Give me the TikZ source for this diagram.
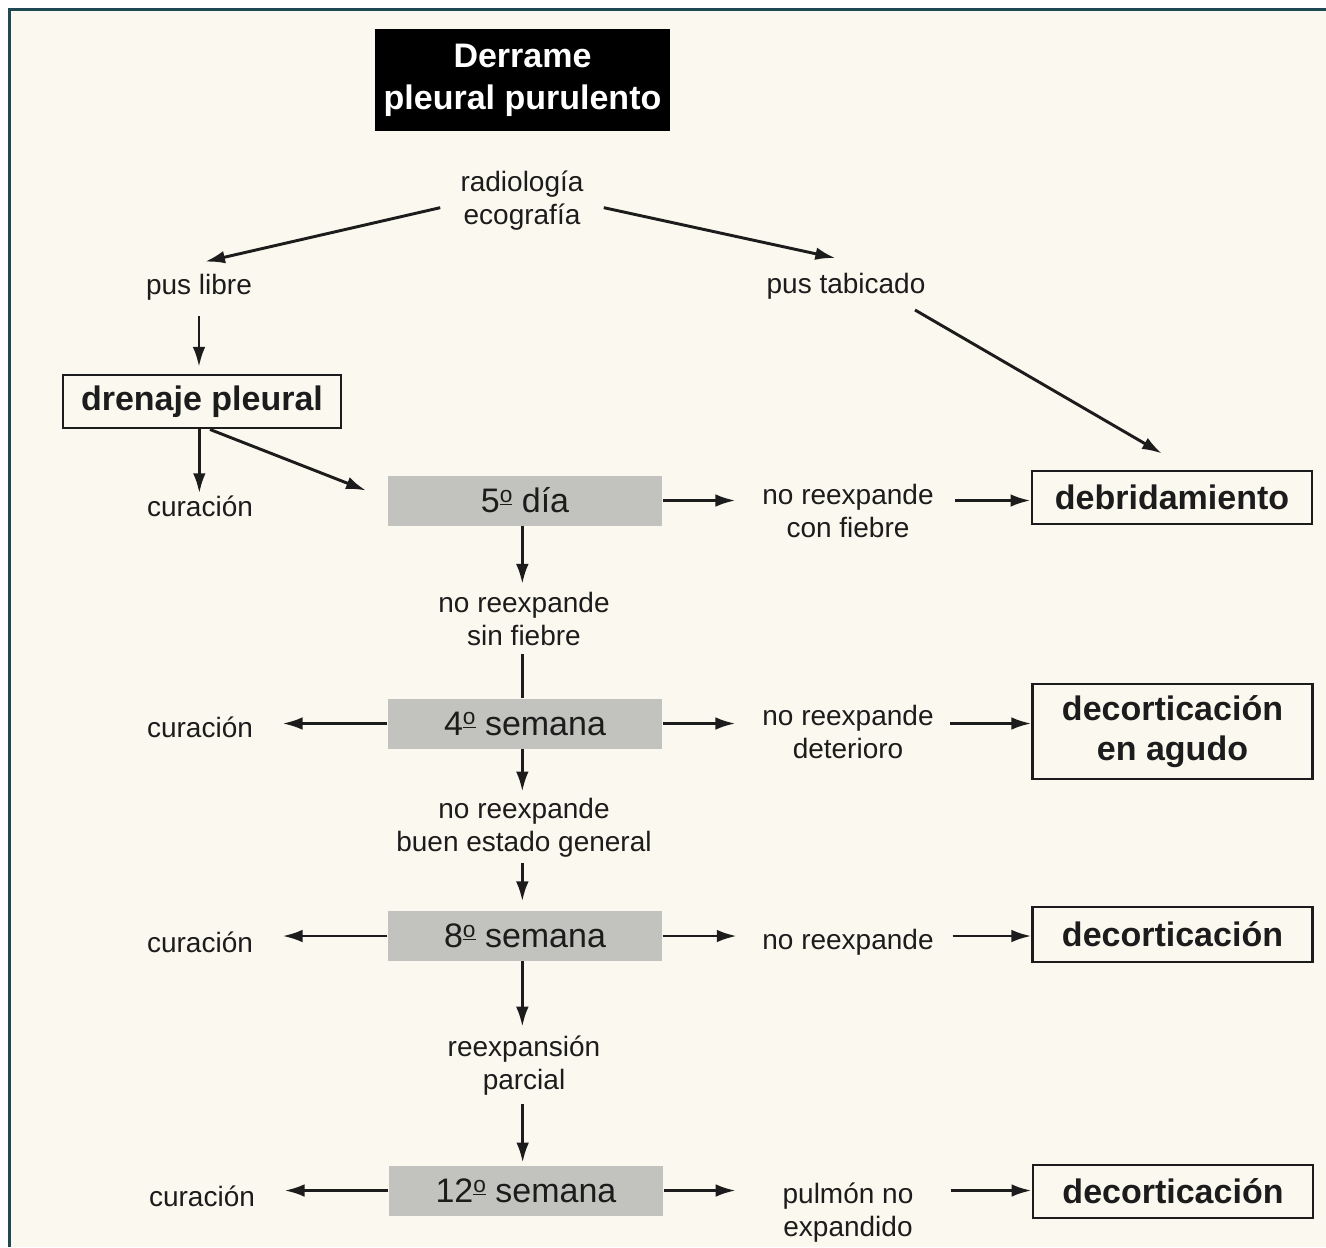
\documentclass[tikz,border=0pt]{standalone}
\usepackage{fontspec}
\setmainfont{Liberation Sans}
\usetikzlibrary{arrows.meta,calc}
\definecolor{paper}{HTML}{FBF8EF}
\definecolor{framecol}{HTML}{1E4852}
\definecolor{ink}{HTML}{1C1C1C}
\definecolor{stage}{HTML}{C2C2BE}

% raised, underlined ordinal indicator
\newcommand{\ordsign}{\raisebox{0.3em}{\fontsize{17}{17}\selectfont\underline{o}}}

\begin{document}
\begin{tikzpicture}[x=0.75pt,y=-0.75pt,
  lbl/.style={font=\fontsize{21}{24.75}\selectfont, align=center, inner sep=0pt, text=ink, yshift=-2.25pt},
  boldbox/.style={draw=ink, line width=2.2pt, font=\bfseries\fontsize{25.5}{30.5}\selectfont,
    align=center, inner sep=0pt, text=ink, minimum width=209.5pt},
  stagebox/.style={fill=stage, minimum width=206pt, minimum height=37.5pt, inner sep=0pt,
    font=\fontsize{25.5}{30}\selectfont, text=ink},
  conn/.style={draw=ink, line width=2.2pt},
  arr/.style={conn, -{Latex[length=15pt,width=9.5pt]}},
]
\useasboundingbox (0,0) rectangle (1326,1247);

% page and frame
\fill[white] (0,0) rectangle (1326,1247);
\fill[paper] (9,9) rectangle (1326,1247);
\draw[framecol, line width=2.3pt] (9.5,1247) -- (9.5,9.5) -- (1326,9.5);

% heading
\node[fill=black, text=white, font=\bfseries\fontsize{25.5}{31.5}\selectfont, align=center,
      minimum width=221pt, minimum height=76.5pt, inner sep=0pt] (title) at (522.5,80)
      {Derrame\\pleural purulento};

% diagnosis and first branches
\node[lbl] (radio) at (522,198) {radiología\\ecografía};
\node[lbl] (libre) at (199,284) {pus libre};
\node[lbl] (tabicado) at (846,283) {pus tabicado};
\node[boldbox, minimum width=208.5pt, minimum height=39.75pt] (drenaje) at (202,401.5) {drenaje pleural};
\node[lbl] (cur1) at (200,503) {curación};

% stage: 5th day
\node[stagebox] (dia5) at (525,500.5) {5\ordsign\ día};
\node[lbl] (nrcf) at (848,508) {no reexpande\\con fiebre};
\node[boldbox, minimum width=210pt, minimum height=39.75pt] (debrid) at (1172,497.5) {debridamiento};
\node[lbl] (nrsf) at (524,616) {no reexpande\\sin fiebre};

% stage: 4th week
\node[stagebox] (sem4) at (525,723.5) {4\ordsign\ semana};
\node[lbl] (cur2) at (200,724) {curación};
\node[lbl] (nrdet) at (848,729) {no reexpande\\deterioro};
\node[boldbox, minimum height=71.25pt] (agudo) at (1172.5,731.5) {decorticación\\en agudo};
\node[lbl] (nrbeg) at (524,825) {no reexpande\\buen estado general};

% stage: 8th week
\node[stagebox] (sem8) at (525,936) {8\ordsign\ semana};
\node[lbl] (cur3) at (200,939) {curación};
\node[lbl] (nr8) at (848,939) {no reexpande};
\node[boldbox, minimum height=41.25pt] (decort8) at (1172.5,934.5) {decorticación};
\node[lbl] (reexp) at (524,1063) {reexpansión\\parcial};

% stage: 12th week
\node[stagebox] (sem12) at (526,1190.5) {12\ordsign\ semana};
\node[lbl] (cur4) at (202,1193) {curación};
\node[lbl] (pulmon) at (848,1210) {pulmón no\\expandido};
\node[boldbox, minimum width=210pt, minimum height=39.75pt] (decort12) at (1173,1191.5) {decorticación};

% connectors: top part
\draw[arr] ([xshift=-15pt,yshift=-5pt]radio.west) -- ([xshift=4.5pt,yshift=9pt]libre.north);
\draw[arr] ([xshift=15pt,yshift=-5pt]radio.east) -- ([xshift=-8pt,yshift=11pt]tabicado.north);
\draw[arr, shorten <=12pt, shorten >=5pt] (libre.south) -- (libre.south |- drenaje.north);
\draw[arr, shorten >=1.5pt] ([xshift=-2pt]drenaje.south) -- ([xshift=-2pt]drenaje.south |- cur1.north);
\draw[arr] ([xshift=6pt]drenaje.south) -- ([xshift=-16pt,yshift=7.5pt]dia5.west);
\draw[arr] ([xshift=-8pt,yshift=-8pt]tabicado.south east) -- ([xshift=-7.5pt,yshift=12pt]debrid.north);

% connectors: 5th day
\draw[arr, shorten >=20pt] (dia5.east) -- (dia5.east -| nrcf.west);
\draw[arr, shorten <=16pt] (dia5 -| nrcf.east) -- (dia5 -| debrid.west);
\draw[arr, shorten >=6pt] ([xshift=-2pt]dia5.south) -- ([xshift=-2pt]dia5.south |- nrsf.north);
\draw[conn, shorten <=6pt] ([xshift=-2pt]sem4.north |- nrsf.south) -- ([xshift=-2pt]sem4.north);

% connectors: 4th week
\draw[arr, shorten >=22pt] (sem4.west) -- (sem4.west -| cur2.east);
\draw[arr, shorten >=20pt] (sem4.east) -- (sem4.east -| nrdet.west);
\draw[arr, shorten <=12pt] (sem4 -| nrdet.east) -- (sem4 -| agudo.west);
\draw[arr, shorten >=5pt] ([xshift=-2pt]sem4.south) -- ([xshift=-2pt]sem4.south |- nrbeg.north);
\draw[arr, shorten <=4pt, shorten >=7pt] ([xshift=-2pt]sem8.north |- nrbeg.south) -- ([xshift=-2pt]sem8.north);

% connectors: 8th week
\draw[arr, shorten >=22pt] (sem8.west) -- (sem8.west -| cur3.east);
\draw[arr, shorten >=19pt] (sem8.east) -- (sem8.east -| nr8.west);
\draw[arr, shorten <=14pt] (sem8 -| nr8.east) -- (sem8 -| decort8.west);
\draw[arr, shorten >=7pt] ([xshift=-2pt]sem8.south) -- ([xshift=-2pt]sem8.south |- reexp.north);
\draw[arr, shorten <=6pt, shorten >=2pt] ([xshift=-2.5pt]sem12.north |- reexp.south) -- ([xshift=-2.5pt]sem12.north);

% connectors: 12th week
\draw[arr, shorten >=22pt] (sem12.west) -- (sem12.west -| cur4.east);
\draw[arr, shorten >=35pt] (sem12.east) -- (sem12.east -| pulmon.west);
\draw[arr, shorten <=28pt] (sem12 -| pulmon.east) -- (sem12 -| decort12.west);
\end{tikzpicture}
\end{document}
